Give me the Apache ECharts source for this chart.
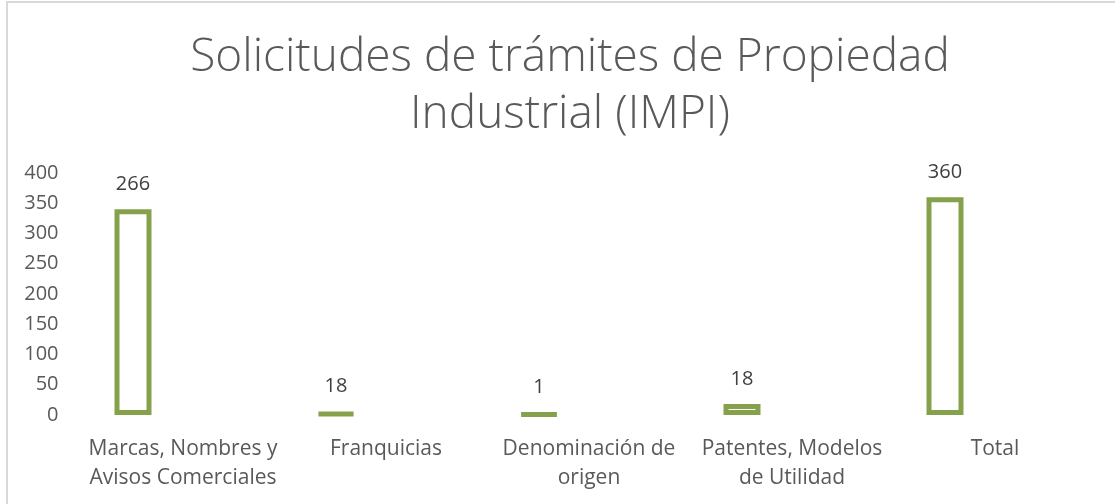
<!DOCTYPE html>
<html>
<head>
<meta charset="utf-8">
<script src="https://cdn.jsdelivr.net/npm/echarts@6/dist/echarts.min.js"></script>
<style>
  html, body { margin: 0; padding: 0; background: #fff; }
  #frame { position: absolute; left: 6px; top: 1px; width: 1200px; height: 600px;
    border-left: 2px solid #d9d9d9; border-top: 2px solid #d9d9d9; box-sizing: border-box; }
  #main { position: absolute; left: 0; top: 0; width: 1115px; height: 504px; }
</style>
</head>
<body>
<div id="frame"></div>
<div id="main"></div>
<script>
const categories = [
  "Marcas, Nombres y\nAvisos Comerciales",
  "Franquicias",
  "Denominación de\norigen",
  "Patentes, Modelos\nde Utilidad",
  "Total",
];
// bar heights as drawn in the picture
const barValues = [340, 3, 2, 18, 360];
// numbers printed above the bars
const dataLabels = ["266", "18", "1", "18", "360"];
const yTicks = { min: 0, max: 400, interval: 50 };

const chart = echarts.init(document.getElementById("main"));
const font = "'Open Sans', sans-serif";

const option = {
  animation: false,
  title: {
    text: "Solicitudes de trámites de Propiedad\nIndustrial (IMPI)",
    left: 565,
    textAlign: "center",
    top: 24,
    textStyle: {
      fontFamily: font,
      fontSize: 46,
      fontWeight: 300,
      color: "#595959",
      lineHeight: 57,
    },
  },
  grid: {
    left: 31.5, right: 68.5, top: 173, bottom: 89,
    containLabel: false, outerBoundsMode: "none",
  },
  xAxis: {
    type: "category",
    data: categories,
    axisLine: { show: false },
    axisTick: { show: false },
    axisLabel: {
      interval: 0,
      margin: 20,
      color: "#595959",
      fontFamily: font,
      fontSize: 21,
      lineHeight: 29,
      padding: [0, 0, 0, 100],
    },
  },
  yAxis: {
    type: "value",
    min: yTicks.min,
    max: yTicks.max,
    interval: yTicks.interval,
    offset: -35,
    axisLine: { show: false },
    axisTick: { show: false },
    splitLine: { show: false },
    axisLabel: {
      margin: 8,
      color: "#595959",
      fontFamily: font,
      fontSize: 20,
    },
  },
  series: [
    {
      type: "bar",
      data: barValues,
      barWidth: 37,
      itemStyle: {
        color: "#ffffff",
        borderColor: "#85A14B",
        borderWidth: 5,
      },
      label: {
        show: true,
        position: "top",
        distance: 15,
        color: "#404040",
        fontFamily: font,
        fontSize: 20,
        formatter: (p) => dataLabels[p.dataIndex],
      },
    },
  ],
};

chart.setOption(option);
</script>
</body>
</html>
